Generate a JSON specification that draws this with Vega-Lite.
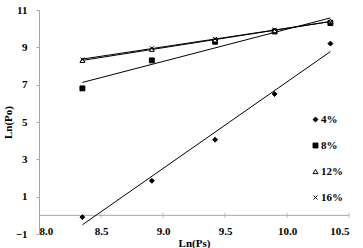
{
  "$schema": "https://vega.github.io/schema/vega-lite/v6.json",
  "autosize": {"type": "none"},
  "padding": {"left": 39, "top": 10, "right": 14, "bottom": 14},
  "width": 310,
  "height": 224,
  "config": {
    "view": {"stroke": null},
    "font": "Liberation Serif",
    "axis": {"labelFont": "Liberation Serif", "titleFont": "Liberation Serif", "labelFontWeight": "bold", "titleFontWeight": "bold", "labelFontSize": 11, "titleFontSize": 11, "labelColor": "black", "titleColor": "black", "grid": false, "domainColor": "#a6a6a6", "tickColor": "#a6a6a6", "labelOverlap": false},
    "axisY": {"labelOverlap": false},
    "legend": {"labelFont": "Liberation Serif", "labelFontWeight": "bold", "labelFontSize": 11, "labelColor": "black"}
  },
  "data": {"values": [
    {"series": "4%", "lnPs": 8.35, "lnPo": -0.1},
    {"series": "4%", "lnPs": 8.91, "lnPo": 1.85},
    {"series": "4%", "lnPs": 9.42, "lnPo": 4.05},
    {"series": "4%", "lnPs": 9.9, "lnPo": 6.5},
    {"series": "4%", "lnPs": 10.35, "lnPo": 9.2},
    {"series": "8%", "lnPs": 8.35, "lnPo": 6.8},
    {"series": "8%", "lnPs": 8.91, "lnPo": 8.3},
    {"series": "8%", "lnPs": 9.42, "lnPo": 9.3},
    {"series": "8%", "lnPs": 9.9, "lnPo": 9.85},
    {"series": "8%", "lnPs": 10.35, "lnPo": 10.3},
    {"series": "12%", "lnPs": 8.35, "lnPo": 8.3},
    {"series": "12%", "lnPs": 8.91, "lnPo": 8.9},
    {"series": "12%", "lnPs": 9.42, "lnPo": 9.4},
    {"series": "12%", "lnPs": 9.9, "lnPo": 9.9},
    {"series": "12%", "lnPs": 10.35, "lnPo": 10.4},
    {"series": "16%", "lnPs": 8.35, "lnPo": 8.35},
    {"series": "16%", "lnPs": 8.91, "lnPo": 8.95},
    {"series": "16%", "lnPs": 9.42, "lnPo": 9.45},
    {"series": "16%", "lnPs": 9.9, "lnPo": 9.95},
    {"series": "16%", "lnPs": 10.35, "lnPo": 10.35}
  ]},
  "layer": [
    {
      "data": {"values": [{"xa": 8.0, "xb": 10.5, "y0": 0}]},
      "mark": {"type": "rule", "color": "#a6a6a6", "strokeWidth": 1},
      "encoding": {
        "x": {"field": "xa", "type": "quantitative", "title": "Ln(Ps)",
          "scale": {"domain": [8.0, 10.5], "nice": false, "zero": false},
          "axis": {"values": [8.0, 8.5, 9.0, 9.5, 10.0, 10.5], "format": ".1f", "domain": false, "ticks": false, "labelPadding": -9, "labelBaseline": "top", "titlePadding": 1, "labelOverlap": false}},
        "x2": {"field": "xb"},
        "y": {"field": "y0", "type": "quantitative", "title": "Ln(Po)",
          "scale": {"domain": [-1, 11], "nice": false, "zero": false},
          "axis": {"values": [-1, 1, 3, 5, 7, 9, 11], "format": "d", "tickSize": 3, "labelPadding": 9, "titlePadding": 2, "labelOverlap": false, "labelFlush": false, "labelBound": false}}
      }
    },
    {
      "data": {"values": [{"t": 8.5, "y0": 0}, {"t": 9.0, "y0": 0}, {"t": 9.5, "y0": 0}, {"t": 10.0, "y0": 0}, {"t": 10.5, "y0": 0}]},
      "mark": {"type": "tick", "orient": "vertical", "color": "#a6a6a6", "size": 5, "thickness": 1},
      "encoding": {
        "x": {"field": "t", "type": "quantitative", "title": "Ln(Ps)",
          "axis": {"values": [8.0, 8.5, 9.0, 9.5, 10.0, 10.5], "format": ".1f", "domain": false, "ticks": false, "labelPadding": -9, "labelBaseline": "top", "titlePadding": 1, "labelOverlap": false}},
        "y": {"field": "y0", "type": "quantitative", "title": "Ln(Po)",
          "axis": {"values": [-1, 1, 3, 5, 7, 9, 11], "format": "d", "tickSize": 3, "labelPadding": 9, "titlePadding": 2, "labelOverlap": false, "labelFlush": false, "labelBound": false}}
      }
    },
    {
      "transform": [{"regression": "lnPo", "on": "lnPs", "groupby": ["series"]}],
      "mark": {"type": "line", "color": "black", "strokeWidth": 1},
      "encoding": {
        "x": {"field": "lnPs", "type": "quantitative", "title": "Ln(Ps)",
          "axis": {"values": [8.0, 8.5, 9.0, 9.5, 10.0, 10.5], "format": ".1f", "domain": false, "ticks": false, "labelPadding": -9, "labelBaseline": "top", "titlePadding": 1, "labelOverlap": false}},
        "y": {"field": "lnPo", "type": "quantitative", "title": "Ln(Po)",
          "axis": {"values": [-1, 1, 3, 5, 7, 9, 11], "format": "d", "tickSize": 3, "labelPadding": 9, "titlePadding": 2, "labelOverlap": false, "labelFlush": false, "labelBound": false}},
        "detail": {"field": "series"}
      }
    },
    {
      "mark": {"type": "point", "opacity": 1, "strokeWidth": 1, "size": 24},
      "encoding": {
        "x": {"field": "lnPs", "type": "quantitative", "title": "Ln(Ps)",
          "axis": {"values": [8.0, 8.5, 9.0, 9.5, 10.0, 10.5], "format": ".1f", "domain": false, "ticks": false, "labelPadding": -9, "labelBaseline": "top", "titlePadding": 1, "labelOverlap": false}},
        "y": {"field": "lnPo", "type": "quantitative", "title": "Ln(Po)",
          "axis": {"values": [-1, 1, 3, 5, 7, 9, 11], "format": "d", "tickSize": 3, "labelPadding": 9, "titlePadding": 2, "labelOverlap": false, "labelFlush": false, "labelBound": false}},
        "shape": {"field": "series", "type": "nominal", "sort": ["4%", "8%", "12%", "16%"], "title": null,
          "scale": {"domain": ["4%", "8%", "12%", "16%"], "range": ["diamond", "square", "triangle-up", "M-0.8,-0.8L0.8,0.8M-0.8,0.8L0.8,-0.8"]},
          "legend": {"orient": "none", "legendX": 271, "legendY": 104, "rowPadding": 14, "symbolSize": 24, "symbolStrokeWidth": 1, "labelOffset": 0}},
        "fill": {"field": "series", "type": "nominal", "sort": ["4%", "8%", "12%", "16%"], "title": null,
          "scale": {"domain": ["4%", "8%", "12%", "16%"], "range": ["black", "black", "white", "transparent"]}},
        "stroke": {"field": "series", "type": "nominal", "sort": ["4%", "8%", "12%", "16%"], "title": null,
          "scale": {"domain": ["4%", "8%", "12%", "16%"], "range": ["black", "black", "black", "black"]}}
      }
    }
  ]
}
